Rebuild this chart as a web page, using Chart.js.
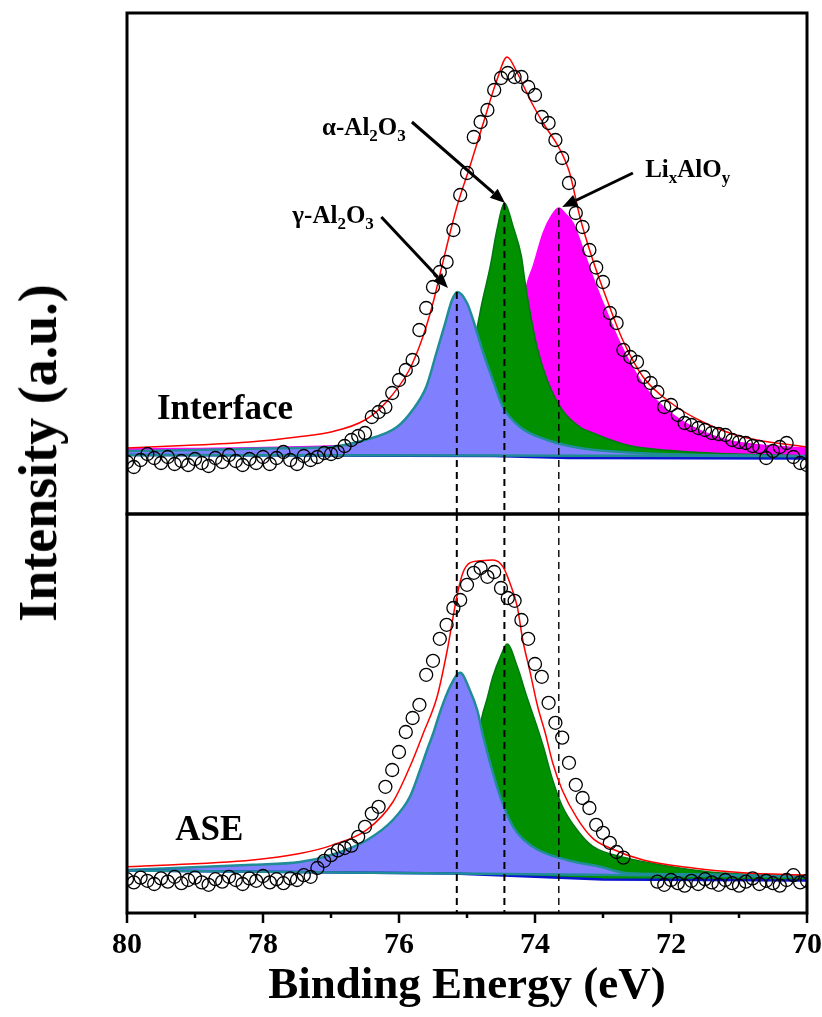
<!DOCTYPE html>
<html>
<head>
<meta charset="utf-8">
<script src="https://cdn.jsdelivr.net/npm/chart.js@4.4.0/dist/chart.umd.min.js"></script>
<style>
    body { margin: 0; background: #fff; width: 822px; height: 1017px; position: relative; overflow: hidden; }
    #top { position: absolute; left: 0; top: 0; }
    #bot { position: absolute; left: 0; top: 512px; }
    #ytitle {
        position: absolute; left: 38px; top: 453px;
        transform: translate(-50%, -50%) rotate(-90deg);
        font: bold 54px 'Times New Roman', 'Liberation Serif', serif;
        white-space: nowrap; color: #000;
    }
</style>
</head>
<body>
<canvas id="top" width="822" height="516"></canvas>
<canvas id="bot" width="822" height="505"></canvas>
<div id="ytitle">Intensity (a.u.)</div>
<script>
const FONT = "'Times New Roman', 'Liberation Serif', serif";

// measured points, binding energy grid (eV)
const energyGrid = [
    80.0, 79.9, 79.8, 79.7, 79.6, 79.5, 79.4, 79.3, 79.2, 79.1,
    79.0, 78.9, 78.8, 78.7, 78.6, 78.5, 78.4, 78.3, 78.2, 78.1,
    78.0, 77.9, 77.8, 77.7, 77.6, 77.5, 77.4, 77.3, 77.2, 77.1,
    77.0, 76.9, 76.8, 76.7, 76.6, 76.5, 76.4, 76.3, 76.2, 76.1,
    76.0, 75.9, 75.8, 75.7, 75.6, 75.5, 75.4, 75.3, 75.2, 75.1,
    75.0, 74.9, 74.8, 74.7, 74.6, 74.5, 74.4, 74.3, 74.2, 74.1,
    74.0, 73.9, 73.8, 73.7, 73.6, 73.5, 73.4, 73.3, 73.2, 73.1,
    73.0, 72.9, 72.8, 72.7, 72.6, 72.5, 72.4, 72.3, 72.2, 72.1,
    72.0, 71.9, 71.8, 71.7, 71.6, 71.5, 71.4, 71.3, 71.2, 71.1,
    71.0, 70.9, 70.8, 70.7, 70.6, 70.5, 70.4, 70.3, 70.2, 70.1,
    70.0
];
const interfaceCounts = [
    -1.4, -2.4, -1.0, 0.2, -0.6, -1.6, -0.4, -1.8, -1.2, -2.0,
    -0.8, -1.6, -2.2, -0.6, -1.4, 0.0, -1.2, -2.0, -0.8, -1.6,
    -0.4, -1.8, -0.6, 0.6, -1.0, -1.8, -0.2, -1.0, -0.4, 0.4,
    0.2, 0.6, 1.8, 3.0, 3.8, 4.4, 7.6, 8.6, 9.6, 12.4,
    15.0, 17.0, 19.0, 25.0, 29.4, 33.6, 36.6, 38.6, 45.0, 52.0,
    56.4, 63.6, 66.6, 69.0, 73.0, 75.4, 76.4, 75.6, 75.6, 73.6,
    72.0, 67.6, 66.4, 63.0, 59.4, 54.4, 48.4, 45.6, 41.0, 37.5,
    34.6, 28.4, 26.4, 21.0, 19.6, 18.6, 15.6, 14.4, 12.6, 9.6,
    10.0, 8.0, 6.4, 6.0, 5.4, 5.0, 4.4, 4.2, 4.0, 3.0,
    2.6, 2.4, 1.8, 1.6, -0.6, 0.8, 1.6, 2.4, -0.4, -1.6,
    -2.0
];
const aseCounts = [
    -1.8, -2.6, -1.4, -2.2, -3.0, -1.6, -2.4, -1.2, -2.8, -2.0,
    -1.4, -2.6, -3.2, -1.8, -2.4, -1.2, -2.0, -3.0, -1.6, -2.2,
    -1.0, -2.6, -1.8, -2.8, -1.6, -2.0, -0.8, -1.2, 1.0, 2.8,
    4.2, 5.4, 6.0, 6.6, 8.8, 11.3, 14.6, 16.3, 21.3, 25.5,
    30.0, 35.0, 38.5, 41.8, 49.3, 52.8, 58.3, 61.8, 66.0, 68.0,
    71.8, 74.8, 76.0, 73.8, 75.0, 71.0, 68.5, 67.8, 63.0, 58.3,
    52.0, 48.8, 42.3, 37.3, 33.6, 27.3, 21.8, 18.5, 16.0, 11.8,
    9.8, 7.3, 5.0, 3.6, null, null, null, null, -2.4, -3.2,
    -2.0, -2.8, -3.4, -2.2, -3.0, -1.8, -2.6, -3.2, -2.0, -2.8,
    -3.4, -2.4, -1.6, -3.0, -2.2, -2.8, -3.4, -2.0, -0.8, -2.6,
    -2.2
];

// Interface fit components
const interfaceFitE = [80.0, 79.0, 78.2, 77.5, 77.0, 76.5, 76.2, 75.85, 75.65, 75.5, 75.4, 75.15, 74.96, 74.76, 74.56, 74.41, 74.26, 74.07, 73.88, 73.63, 73.49, 73.34, 73.15, 72.94, 72.71, 72.41, 72.0, 71.5, 70.94, 70.0];
const interfaceFitI = [1.4, 2.0, 2.6, 3.6, 4.6, 7.0, 10.4, 17.0, 23.6, 30.4, 36.0, 49.6, 57.6, 66.4, 75.0, 79.6, 76.4, 71.0, 66.4, 61.0, 56.4, 47.6, 39.0, 31.0, 23.0, 15.6, 10.4, 6.4, 3.6, 1.6];
const interfaceGammaE = [80.0, 79.0, 78.0, 77.5, 77.0, 76.5, 76.03, 75.8, 75.6, 75.45, 75.32, 75.22, 75.14, 75.0, 74.91, 74.76, 74.62, 74.47, 74.22, 73.82, 73.34, 72.5, 71.5, 70.0];
const interfaceGammaI = [0.8, 1.0, 1.3, 1.4, 1.6, 3.0, 5.6, 9.0, 13.6, 20.4, 26.4, 31.0, 32.6, 30.4, 27.0, 20.4, 15.0, 9.6, 5.6, 3.0, 1.4, 0.4, 0.0, -0.3];
const interfaceAlphaE = [80.0, 78.0, 76.5, 75.7, 75.3, 75.0, 74.85, 74.78, 74.66, 74.56, 74.45, 74.32, 74.2, 74.15, 74.07, 73.97, 73.82, 73.6, 73.34, 73.15, 72.65, 71.68, 70.0];
const interfaceAlphaI = [0.4, 0.8, 2.0, 5.0, 10.0, 18.0, 25.6, 30.4, 37.6, 45.0, 50.4, 45.6, 39.7, 35.0, 28.4, 21.6, 15.0, 9.0, 5.6, 4.4, 2.0, 0.6, -0.2];
const interfaceLiE = [80.0, 78.0, 76.5, 75.5, 75.0, 74.6, 74.4, 74.25, 74.1, 74.03, 73.88, 73.75, 73.65, 73.55, 73.44, 73.29, 73.15, 73.0, 72.79, 72.6, 72.35, 72.06, 71.68, 71.18, 70.69, 70.0];
const interfaceLiI = [1.2, 1.5, 2.2, 4.0, 7.0, 12.0, 18.0, 26.0, 35.0, 37.6, 44.4, 48.0, 49.4, 48.2, 46.4, 41.0, 35.6, 30.4, 23.6, 18.4, 13.0, 9.0, 5.6, 3.0, 2.0, 1.4];
const interfaceBgE = [80.0, 70.0];
const interfaceBgI = [0.0, -0.2];
const interfaceBg2E = [80.0, 74.6, 73.5, 70.0];
const interfaceBg2I = [0.0, -0.2, -0.6, -0.7];

// ASE fit components
const aseFitE = [80.0, 78.15, 77.46, 77.0, 76.47, 76.09, 75.84, 75.64, 75.44, 75.29, 75.15, 75.06, 74.96, 74.81, 74.62, 74.47, 74.37, 74.26, 74.18, 74.07, 73.96, 73.85, 73.74, 73.6, 73.38, 73.15, 72.9, 72.41, 71.68, 70.94, 70.0];
const aseFitI = [1.3, 3.0, 4.6, 6.6, 10.6, 17.5, 26.3, 34.8, 43.8, 55.5, 68.8, 74.8, 77.3, 77.8, 78.0, 76.3, 72.3, 66.3, 58.0, 49.8, 41.3, 34.8, 27.3, 20.5, 13.4, 8.4, 6.0, 3.0, 1.0, -0.2, -0.8];
const aseGammaE = [80.0, 78.15, 77.46, 76.97, 76.47, 76.09, 75.84, 75.69, 75.57, 75.5, 75.4, 75.25, 75.1, 74.96, 74.85, 74.76, 74.66, 74.51, 74.32, 74.03, 73.53, 73.04, 72.65, 71.5, 70.0];
const aseGammaI = [0.5, 1.8, 2.5, 4.4, 8.0, 13.0, 18.8, 25.5, 31.3, 34.5, 39.8, 46.3, 49.8, 45.5, 40.5, 33.8, 27.3, 18.8, 11.3, 6.3, 3.0, 1.3, -0.3, -0.6, -1.0];
const aseAlphaE = [80.0, 77.0, 76.0, 75.5, 75.1, 74.9, 74.78, 74.71, 74.62, 74.51, 74.41, 74.26, 74.12, 73.97, 73.88, 73.74, 73.6, 73.38, 73.15, 72.65, 72.16, 71.43, 70.0];
const aseAlphaI = [0.4, 1.5, 3.0, 6.0, 14.0, 28.0, 38.8, 43.0, 48.8, 53.8, 57.0, 51.3, 43.8, 36.3, 31.5, 23.0, 16.5, 10.5, 6.4, 3.5, 1.8, 0.0, -1.0];
const aseBgE = [80.0, 70.0];
const aseBgI = [0.4, -1.2];
const aseBg2E = [80.0, 75.2, 74.0, 73.0, 70.0];
const aseBg2I = [0.4, -0.4, -1.2, -1.9, -2.1];

// peak positions marked by dashed lines, and peak heights in the Interface panel
const peakCenters = [75.15, 74.45, 73.65];
const peakTopsInterface = [32.6, 50.4, 49.4];
const xTickValues = [80, 78, 76, 74, 72, 70];

const TOP_Y = { min: -11.8, max: 88.4 };
const BOT_Y = { min: -10.25, max: 89.5 };

const BLUE_FILL = '#8080ff', TEAL = '#1f8c98', GREEN = '#009000', GREEN_EDGE = '#007a10', MAGENTA = '#ff00ff';

function pts(xs, ys) {
    return xs.map((x, i) => ({ x: x, y: ys[i] }));
}

function circles(ys) {
    return {
        data: pts(energyGrid, ys), showLine: false, pointStyle: 'circle',
        pointRadius: 6.5, pointBorderColor: '#000', pointBorderWidth: 1.3,
        pointBackgroundColor: 'rgba(0,0,0,0)', order: 0
    };
}

function curve(xs, ys, color, width, order, extra) {
    return Object.assign({
        data: pts(xs, ys), borderColor: color, borderWidth: width, pointRadius: 0,
        cubicInterpolationMode: 'monotone', fill: false, order: order
    }, extra || {});
}

function refLines(tops, bottom) {
    return peakCenters.map((e, i) => ({
        data: [{ x: e, y: tops[i] }, { x: e, y: bottom }],
        borderColor: '#000', borderWidth: i === 2 ? 1.4 : 2, borderDash: [7, 5],
        pointRadius: 0, fill: false, order: 2
    }));
}

// chemical labels with subscripts
function drawChem(ctx, parts, x, y, align) {
    const big = 'bold 25px ' + FONT, small = 'bold 17px ' + FONT;
    let w = 0;
    parts.forEach(p => { ctx.font = p[1] ? small : big; w += ctx.measureText(p[0]).width; });
    let cx = align === 'right' ? x - w : x;
    ctx.fillStyle = '#000';
    ctx.textBaseline = 'alphabetic';
    ctx.textAlign = 'left';
    parts.forEach(p => {
        ctx.font = p[1] ? small : big;
        ctx.fillText(p[0], cx, p[1] ? y + 6 : y);
        cx += ctx.measureText(p[0]).width;
    });
}

function drawArrow(ctx, x1, y1, x2, y2) {
    const ang = Math.atan2(y2 - y1, x2 - x1), head = 15, half = 6;
    const bx = x2 - head * Math.cos(ang), by = y2 - head * Math.sin(ang);
    ctx.strokeStyle = '#000';
    ctx.lineWidth = 3;
    ctx.beginPath();
    ctx.moveTo(x1, y1);
    ctx.lineTo(bx, by);
    ctx.stroke();
    ctx.fillStyle = '#000';
    ctx.beginPath();
    ctx.moveTo(x2, y2);
    ctx.lineTo(bx + half * Math.sin(ang), by - half * Math.cos(ang));
    ctx.lineTo(bx - half * Math.sin(ang), by + half * Math.cos(ang));
    ctx.closePath();
    ctx.fill();
}

const topNotes = [
    { parts: [['γ-Al'], ['2', 1], ['O'], ['3', 1]], at: [76.37, 46.4], align: 'right', from: [76.26, 47.6], to: [75.28, 33.4] },
    { parts: [['α-Al'], ['2', 1], ['O'], ['3', 1]], at: [75.9, 64.0], align: 'right', from: [75.81, 66.6], to: [74.44, 50.4] },
    { parts: [['Li'], ['x', 1], ['AlO'], ['y', 1]], at: [72.38, 55.6], align: 'left', from: [72.56, 56.4], to: [73.6, 49.6] }
];

function frame(chart) {
    const { ctx, chartArea: a } = chart;
    ctx.save();
    ctx.strokeStyle = '#000';
    ctx.lineWidth = 3;
    ctx.strokeRect(a.left, a.top, a.right - a.left, a.bottom - a.top);
    ctx.restore();
}

const topDecor = {
    id: 'topDecor',
    afterDatasetsDraw(chart) {
        const { ctx, scales: { x, y } } = chart;
        ctx.save();
        topNotes.forEach(n => {
            drawChem(ctx, n.parts, x.getPixelForValue(n.at[0]), y.getPixelForValue(n.at[1]), n.align);
            drawArrow(ctx, x.getPixelForValue(n.from[0]), y.getPixelForValue(n.from[1]),
                x.getPixelForValue(n.to[0]), y.getPixelForValue(n.to[1]));
        });
        ctx.font = 'bold 35px ' + FONT;
        ctx.fillStyle = '#000';
        ctx.textAlign = 'left';
        ctx.textBaseline = 'alphabetic';
        ctx.fillText('Interface', x.getPixelForValue(79.56), y.getPixelForValue(7.2));
        ctx.restore();
    },
    afterDraw: frame
};

const botDecor = {
    id: 'botDecor',
    afterDatasetsDraw(chart) {
        const { ctx, scales: { x, y } } = chart;
        ctx.save();
        ctx.font = 'bold 35px ' + FONT;
        ctx.fillStyle = '#000';
        ctx.textAlign = 'left';
        ctx.textBaseline = 'alphabetic';
        ctx.fillText('ASE', x.getPixelForValue(79.29), y.getPixelForValue(8));
        ctx.restore();
    },
    afterDraw(chart) {
        frame(chart);
        const { ctx, chartArea: a, scales: { x } } = chart;
        ctx.save();
        ctx.strokeStyle = '#000';
        ctx.lineWidth = 2.5;
        for (let e = x.min; e <= x.max; e++) {
            const px = x.getPixelForValue(e);
            ctx.beginPath();
            ctx.moveTo(px, a.bottom);
            ctx.lineTo(px, a.bottom + (e % 2 === 0 ? 10 : 5));
            ctx.stroke();
        }
        ctx.restore();
    }
};

Chart.defaults.font.family = FONT;
Chart.defaults.color = '#000';

// datasets: 0 points, 1 fit, 2-4 dashed, 5 bg teal, 6 bg blue, 7 gamma, 8 alpha, 9 LixAlOy
new Chart(document.getElementById('top'), {
    type: 'line',
    data: {
        datasets: [
            circles(interfaceCounts),
            curve(interfaceFitE, interfaceFitI, '#ff0000', 1.5, 1),
            ...refLines(peakTopsInterface, TOP_Y.min),
            curve(interfaceBgE, interfaceBgI, TEAL, 2.5, 3, { cubicInterpolationMode: 'default' }),
            curve(interfaceBg2E, interfaceBg2I, '#0a14d0', 2.5, 4, { cubicInterpolationMode: 'default' }),
            curve(interfaceGammaE, interfaceGammaI, TEAL, 2.5, 5, { fill: 5, backgroundColor: BLUE_FILL }),
            curve(interfaceAlphaE, interfaceAlphaI, GREEN_EDGE, 1.5, 6, { fill: 6, backgroundColor: GREEN }),
            curve(interfaceLiE, interfaceLiI, MAGENTA, 1.5, 7, { fill: 6, backgroundColor: MAGENTA })
        ]
    },
    options: {
        responsive: false, animation: false, devicePixelRatio: 1,
        layout: { autoPadding: false, padding: { left: 127, right: 15, top: 13, bottom: 2 } },
        plugins: { legend: { display: false }, tooltip: { enabled: false } },
        scales: {
            x: { type: 'linear', min: 70, max: 80, reverse: true, display: false },
            y: { min: TOP_Y.min, max: TOP_Y.max, display: false }
        }
    },
    plugins: [topDecor]
});

// datasets: 0 points, 1 fit, 2-4 dashed, 5 bg teal, 6 bg blue, 7 gamma, 8 alpha
new Chart(document.getElementById('bot'), {
    type: 'line',
    data: {
        datasets: [
            circles(aseCounts),
            curve(aseFitE, aseFitI, '#ff0000', 1.5, 1),
            ...refLines(peakCenters.map(() => BOT_Y.max), BOT_Y.min),
            curve(aseBgE, aseBgI, TEAL, 2.5, 3, { cubicInterpolationMode: 'default' }),
            curve(aseBg2E, aseBg2I, '#0a14d0', 2.5, 4, { cubicInterpolationMode: 'default' }),
            curve(aseGammaE, aseGammaI, TEAL, 2.5, 5, { fill: 5, backgroundColor: BLUE_FILL }),
            curve(aseAlphaE, aseAlphaI, GREEN_EDGE, 1.5, 6, { fill: 6, backgroundColor: GREEN })
        ]
    },
    options: {
        responsive: false, animation: false, devicePixelRatio: 1,
        layout: { autoPadding: false, padding: { left: 127, right: 15, top: 2, bottom: 0 } },
        plugins: { legend: { display: false }, tooltip: { enabled: false } },
        scales: {
            x: {
                type: 'linear', min: 70, max: 80, reverse: true,
                afterFit: s => { s.height = 104; s.paddingLeft = 0; s.paddingRight = 0; },
                afterBuildTicks: s => { s.ticks = xTickValues.map(v => ({ value: v })); },
                grid: { display: false, drawTicks: false },
                border: { display: false },
                ticks: { padding: 14, maxRotation: 0, autoSkip: false, color: '#000',
                         font: { family: FONT, size: 30, weight: 'bold' } },
                title: { display: true, text: 'Binding Energy (eV)', color: '#000',
                         font: { family: FONT, size: 45, weight: 'bold' }, padding: { top: 0, bottom: 4 } }
            },
            y: { min: BOT_Y.min, max: BOT_Y.max, display: false }
        }
    },
    plugins: [botDecor]
});
</script>
</body>
</html>
